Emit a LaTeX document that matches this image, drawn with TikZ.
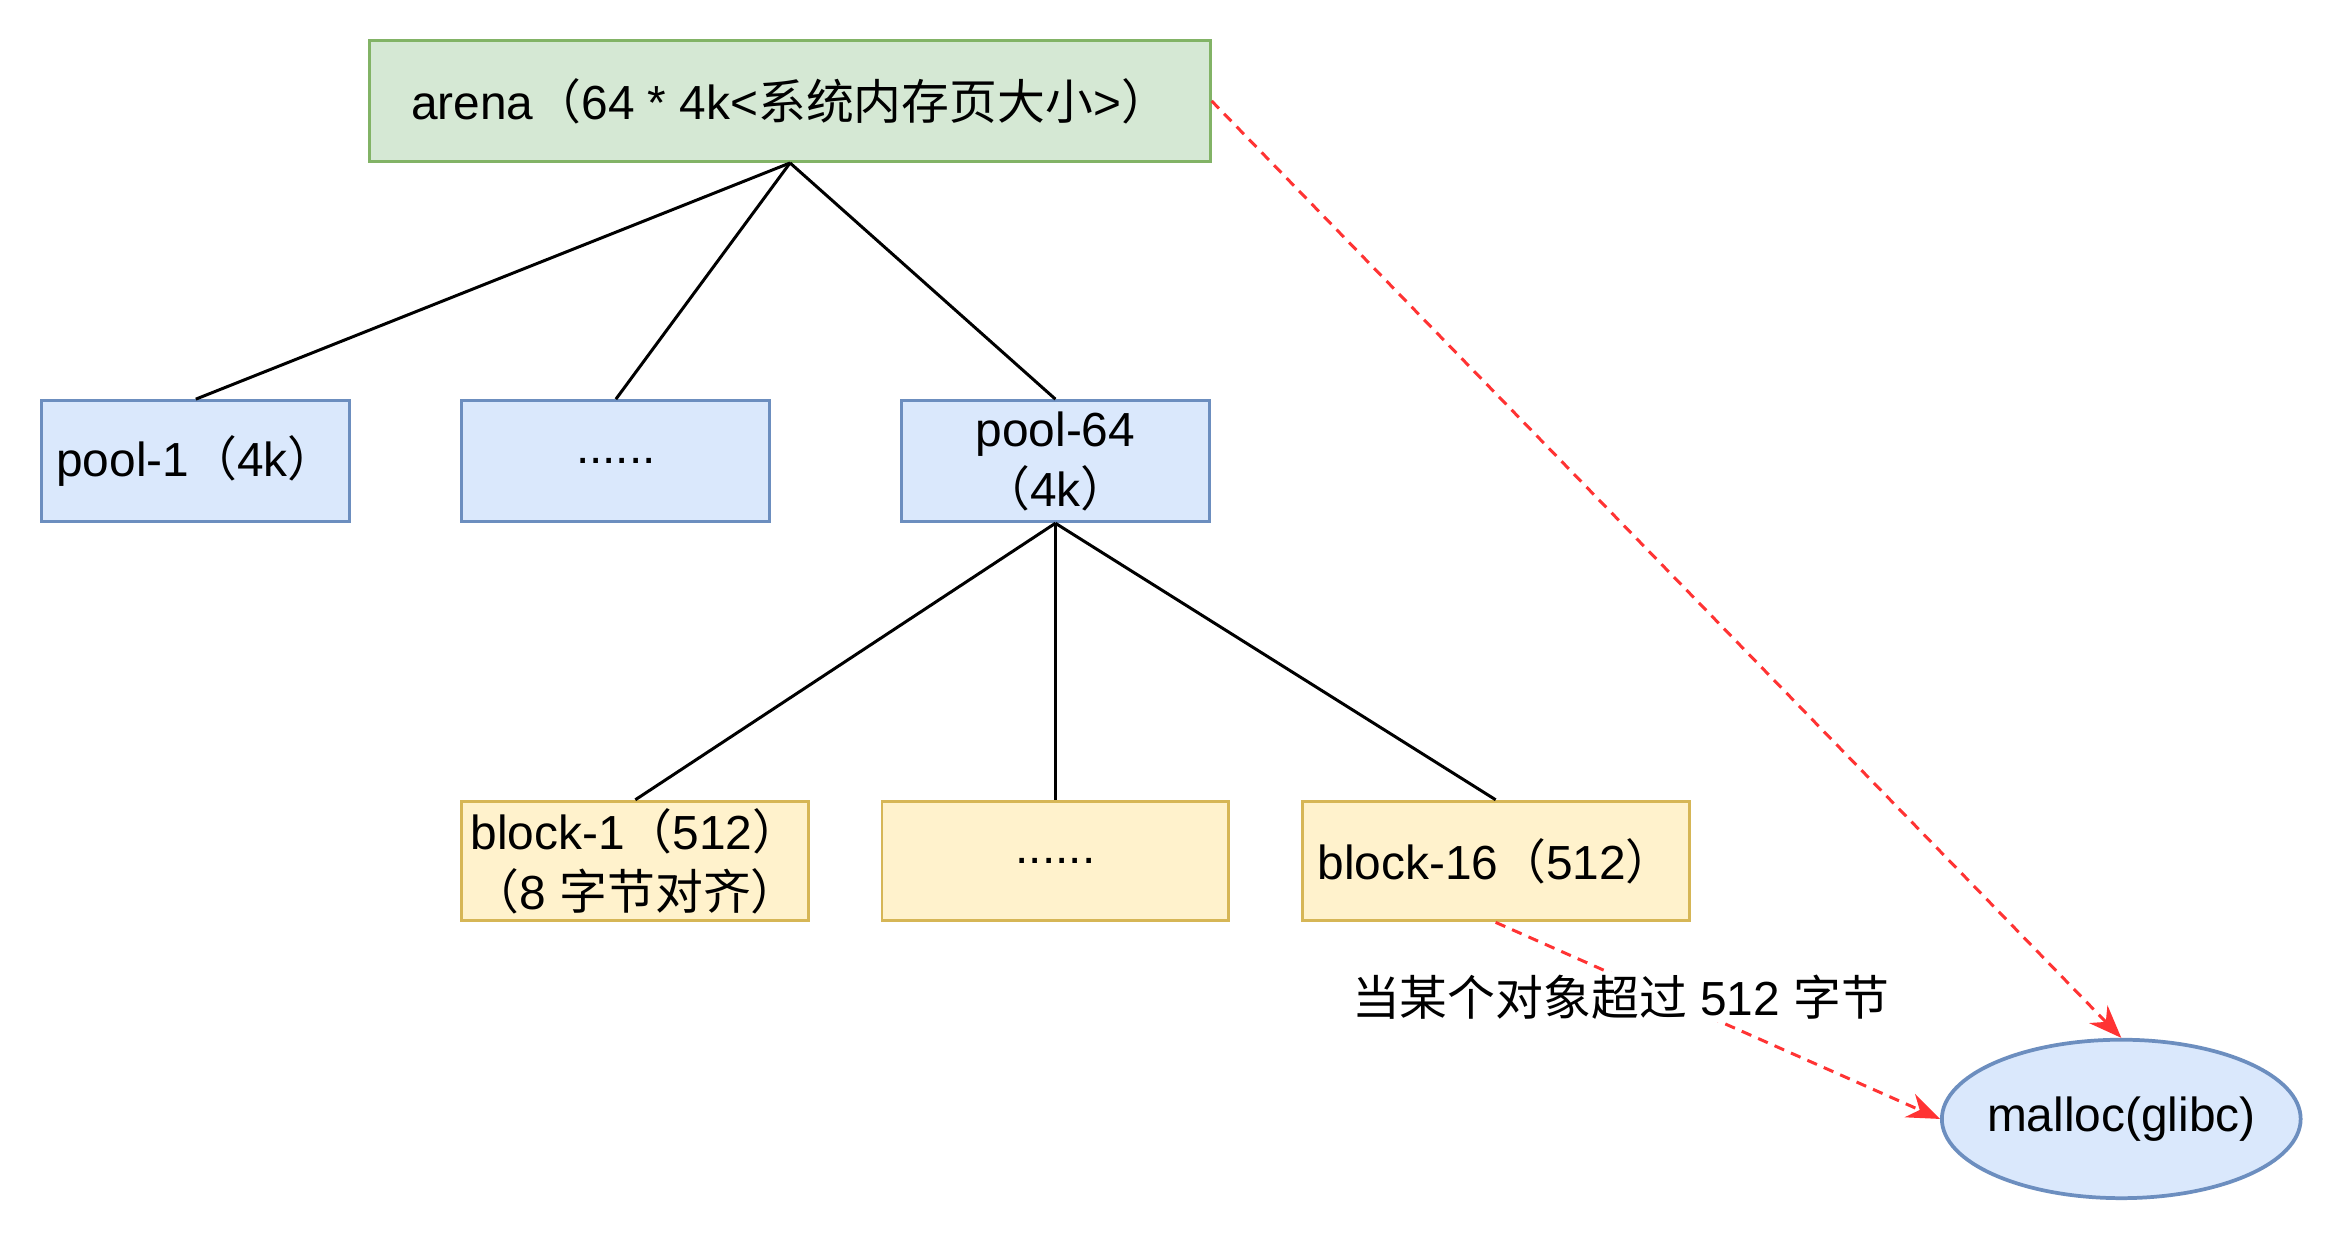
\documentclass[tikz,border=0pt]{standalone}
\usepackage{fontspec}
\setmainfont{Liberation Sans}
\newfontfamily\cjk{Noto Sans CJK SC}
\newcommand{\zh}[1]{{\cjk #1}}
\usetikzlibrary{arrows.meta, shapes.geometric}

\definecolor{arenafill}{HTML}{D5E8D4}
\definecolor{arenaline}{HTML}{82B366}
\definecolor{poolfill}{HTML}{DAE8FC}
\definecolor{poolline}{HTML}{6C8EBF}
\definecolor{blockfill}{HTML}{FFF2CC}
\definecolor{blockline}{HTML}{D6B656}
\definecolor{overred}{HTML}{FF3333}

\begin{document}
\begin{tikzpicture}[x=1pt, y=-1pt,
		every node/.style={font=\fontsize{32}{40}\selectfont, align=center},
		arenabox/.style={draw=arenaline, fill=arenafill, line width=2pt, minimum width=562pt, minimum height=81pt},
		poolbox/.style={draw=poolline, fill=poolfill, line width=2pt, minimum width=206pt, minimum height=81pt},
		blockbox/.style={draw=blockline, fill=blockfill, line width=2pt, minimum width=232pt, minimum height=80pt},
		tree/.style={line width=2pt},
		over/.style={draw=overred, line width=2pt, dash pattern=on 7pt off 5pt, -{Stealth[length=22pt, width=17pt, fill=overred]}}]
		
		\useasboundingbox (0,0) rectangle (1568,832.2);
		\fill[white] (0,0) rectangle (1568,832.2);
		
		\node[arenabox] (arena) at (528.5,67.5) {arena\zh{（}64 * 4k<\zh{系统内存页大小}>\zh{）}};
		
		\node[poolbox] (pool1) at (131,308.5) {pool-1\zh{（}4k\zh{）}};
		\node[poolbox] (pooldots) at (412,308.5) {......};
		\node[poolbox] (pool64) at (706,308.5) {pool-64\\\zh{（}4k\zh{）}};
		
		\node[blockbox] (block1) at (425,576) {block-1\zh{（}512\zh{）}\\\zh{（}8 \zh{字节对齐}\zh{）}};
		\node[blockbox] (blockdots) at (706,576) {......};
		\node[blockbox, minimum width=259pt] (block16) at (1000.5,576) {block-16\zh{（}512\zh{）}};
		
		\node[draw=poolline, fill=poolfill, line width=2.5pt, ellipse, inner xsep=-20pt, inner ysep=0pt, minimum width=240pt, minimum height=106pt] (malloc) at (1419,748.5) {malloc(glibc)};
		
		\draw[tree] (arena.south) -- (pool1.north);
		\draw[tree] (arena.south) -- (pooldots.north);
		\draw[tree] (arena.south) -- (pool64.north);
		
		\draw[tree] (pool64.south) -- (block1.north);
		\draw[tree] (pool64.south) -- (blockdots.north);
		\draw[tree] (pool64.south) -- (block16.north);
		
		\draw[over] (arena.east) -- (malloc.north);
		\draw[over] (block16.south) -- (malloc.west);
		\node[fill=white, inner sep=2pt] (note) at (1084,667) {\zh{当某个对象超过} 512 \zh{字节}};
		
	\end{tikzpicture}
\end{document}
